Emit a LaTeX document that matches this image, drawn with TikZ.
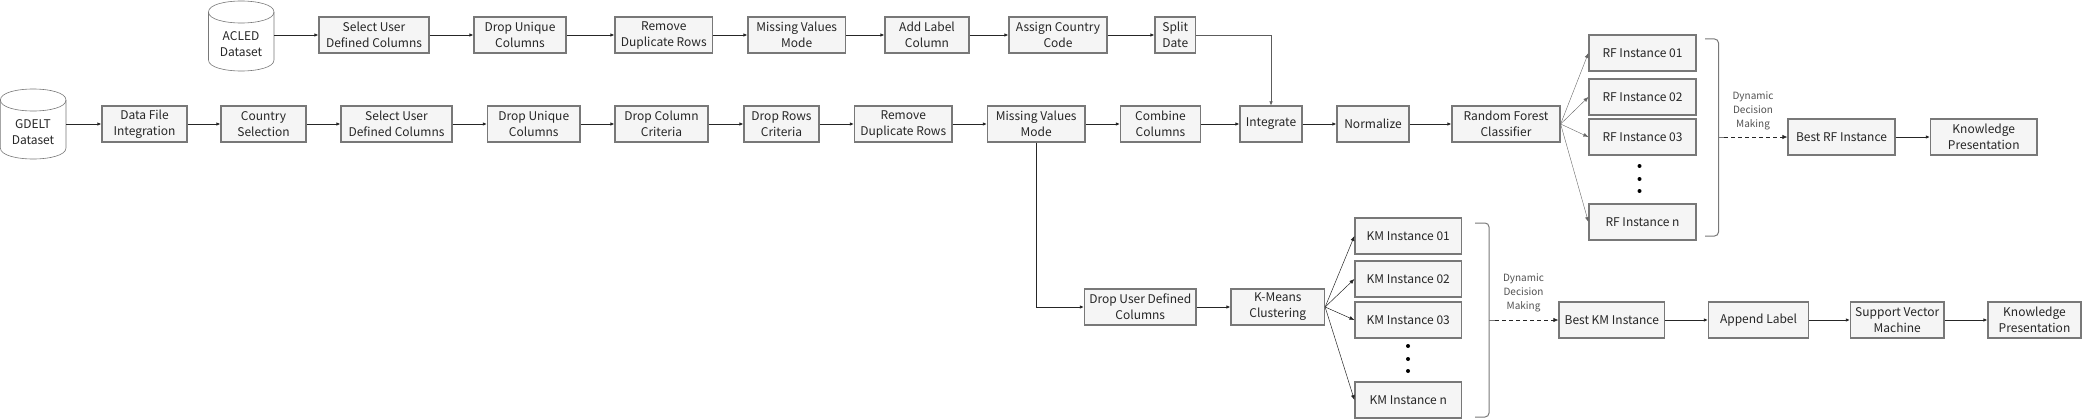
\documentclass[tikz,border=0pt]{standalone}
\usepackage{fontspec}
\setmainfont{Noto Sans CJK SC}
\usetikzlibrary{arrows.meta}
\definecolor{boxline}{HTML}{787878}
\definecolor{boxfill}{HTML}{F5F5F5}
\definecolor{ink}{HTML}{262626}
\tikzset{
  stepbox/.style={draw=boxline,fill=boxfill,line width=1.2pt,inner sep=0pt,align=center,font=\fontsize{12}{16}\selectfont,text=ink},
  dbline/.style={draw=boxline,line width=0.6pt},
  dblabel/.style={inner sep=0pt,align=center,minimum width=66pt,font=\fontsize{12}{16}\selectfont,text=ink},
  flow/.style={-{Latex[length=4pt,width=3.5pt]},draw=ink,line width=0.8pt},
  thinflow/.style={-{Latex[length=4pt,width=3.5pt]},draw=ink!75,line width=0.5pt},
  fan/.style={-{Latex[length=5pt,width=4pt]},draw=ink,line width=0.5pt},
  lightfan/.style={-{Latex[length=5pt,width=4pt]},draw=ink!70,line width=0.4pt},
  dynflow/.style={-{Latex[length=5pt,width=4.5pt]},draw=ink,line width=0.8pt,dash pattern=on 4pt off 3pt},
  bracket/.style={draw=boxline,line width=1pt,rounded corners=4pt},
  stub/.style={draw=boxline,line width=1pt},
  sidetext/.style={inner sep=0pt,align=center,font=\fontsize{10}{14}\selectfont,text=ink!80},
  dotmark/.style={circle,fill=black,inner sep=0pt,minimum size=4pt}
}
\newcommand{\bx}[6]{%
  \pgfmathsetmacro{\bxcx}{(#2+#3)/2}\pgfmathsetmacro{\bxcy}{(#4+#5)/2}%
  \pgfmathsetmacro{\bxw}{#3-#2}\pgfmathsetmacro{\bxh}{#5-#4}%
  \node[stepbox,minimum width=\bxw pt,minimum height=\bxh pt] (#1) at (\bxcx,\bxcy) {#6};}
% cylinder: left x, right x, top y
\newcommand{\dbcyl}[3]{%
  \pgfmathsetmacro{\cya}{#3+11}\pgfmathsetmacro{\cyb}{#3+59}%
  \pgfmathsetmacro{\cup}{#3-3.67}\pgfmathsetmacro{\cdn}{#3+25.67}\pgfmathsetmacro{\cbt}{#3+73.67}%
  \draw[dbline,fill=white] (#1,\cya) .. controls (#1,\cup) and (#2,\cup) .. (#2,\cya) -- (#2,\cyb) .. controls (#2,\cbt) and (#1,\cbt) .. (#1,\cyb) -- cycle;
  \draw[dbline] (#1,\cya) .. controls (#1,\cdn) and (#2,\cdn) .. (#2,\cya);}
\begin{document}
\begin{tikzpicture}[x=1pt,y=-1pt]
\useasboundingbox (0,0) rectangle (2084,420);
% datasets
\dbcyl{208.5}{274}{1}
\node[dblabel] (acled) at (241,44) {ACLED\\Dataset};
\dbcyl{0.4}{66}{89}
\node[dblabel] (gdelt) at (33,132) {GDELT\\Dataset};
% row 1
\bx{a1}{319}{429}{17}{53}{Select User\\Defined Columns}
\bx{a2}{474}{566}{17}{53}{Drop Unique\\Columns}
\bx{a3}{615}{712.5}{17}{53}{Remove\\Duplicate Rows}
\bx{a4}{748}{845.5}{17}{53}{Missing Values\\Mode}
\bx{a5}{885}{969}{17}{53}{Add Label\\Column}
\bx{a6}{1009}{1107}{17}{53}{Assign Country\\Code}
\bx{a7}{1155}{1195.5}{17}{53}{Split\\Date}
% row 2
\bx{b1}{102}{187}{106}{142}{Data File\\Integration}
\bx{b2}{221}{306}{106}{142}{Country\\Selection}
\bx{b3}{341}{452}{106}{142}{Select User\\Defined Columns}
\bx{b4}{487.5}{580}{106}{142}{Drop Unique\\Columns}
\bx{b5}{615}{708}{106}{142}{Drop Column\\Criteria}
\bx{b6}{744}{819}{106}{142}{Drop Rows\\Criteria}
\bx{b7}{854.5}{952}{106}{142}{Remove\\Duplicate Rows}
\bx{b8}{987.5}{1085}{106}{142}{Missing Values\\Mode}
\bx{b9}{1120.5}{1200.5}{106}{142}{Combine\\Columns}
\bx{b10}{1240}{1302}{106}{142}{Integrate}
\bx{b11}{1337}{1409}{106}{142}{Normalize}
\bx{rf}{1452}{1560}{106}{142}{Random Forest\\Classifier}
% RF instances
\bx{r1}{1589}{1696}{35}{71}{RF Instance 01}
\bx{r2}{1589}{1696}{79}{115}{RF Instance 02}
\bx{r3}{1589}{1696}{119}{155}{RF Instance 03}
\bx{rn}{1589}{1696}{204}{240}{RF Instance n}
\node[dotmark] (rd1) at (1639.5,166) {};
\node[dotmark] (rd2) at (1639.5,179) {};
\node[dotmark] (rd3) at (1639.5,191) {};
\bx{rb}{1788}{1895}{119}{155}{Best RF Instance}
\bx{rk}{1930.5}{2037}{119}{155}{Knowledge\\Presentation}
% lower branch
\bx{k0}{1084.5}{1196}{289}{325}{Drop User Defined\\Columns}
\bx{km}{1231}{1324.5}{289}{325}{K-Means\\Clustering}
\bx{k1}{1355}{1461.5}{218}{254}{KM Instance 01}
\bx{k2}{1355}{1461.5}{261}{297}{KM Instance 02}
\bx{k3}{1355}{1461.5}{302}{338}{KM Instance 03}
\bx{kn}{1355}{1461.5}{382}{418}{KM Instance n}
\node[dotmark] (kd1) at (1408,346) {};
\node[dotmark] (kd2) at (1408,359) {};
\node[dotmark] (kd3) at (1408,371) {};
\bx{kb}{1559}{1664.5}{302}{338}{Best KM Instance}
\bx{kl}{1708.5}{1808.5}{302}{338}{Append Label}
\bx{ks}{1850.5}{1944}{302}{338}{Support Vector\\Machine}
\bx{kk}{1988}{2081}{302}{338}{Knowledge\\Presentation}
% connectors
\draw[flow] (acled.east |- a1.west) -- (a1.west);
\draw[flow] (gdelt.east |- b1.west) -- (b1.west);
\foreach \p/\q in {a1/a2,a2/a3,a3/a4,a4/a5,a5/a6,a6/a7,b1/b2,b2/b3,b3/b4,b4/b5,b5/b6,b6/b7,b7/b8,b8/b9,b9/b10,b10/b11,b11/rf,rb/rk,k0/km,kb/kl,kl/ks,ks/kk}{
  \draw[flow] (\p.east) -- (\q.west);}
\draw[thinflow] (a7.east) -| (b10.north);
\draw[flow] (b8.south) |- (k0.west);
\foreach \q in {r1,r2,r3,rn}{\draw[lightfan] (rf.east) -- (\q.west);}
\foreach \q in {k1,k2,k3,kn}{\draw[fan] (km.east) -- (\q.west);}
% brackets
\coordinate (rtip) at (1718.5,137);
\coordinate (rtipb) at (1724,137);
\coordinate (ktip) at (1489,320);
\coordinate (ktipb) at (1495,320);
\draw[bracket] (1705,39) -- (1718.5,39) -- (1718.5,236) -- (1705,236);
\draw[bracket] (1475,223) -- (1489,223) -- (1489,417) -- (1475,417);
\draw[stub] (rtip) -- (rtipb);
\draw[stub] (ktip) -- (ktipb);
\draw[dynflow] (rtipb) -- (rb.west);
\draw[dynflow] (ktipb) -- (kb.west);
\node[sidetext] (rdyn) at (1753,111) {Dynamic\\Decision\\Making};
\node[sidetext] (kdyn) at (1523.5,293) {Dynamic\\Decision\\Making};
\end{tikzpicture}
\end{document}
